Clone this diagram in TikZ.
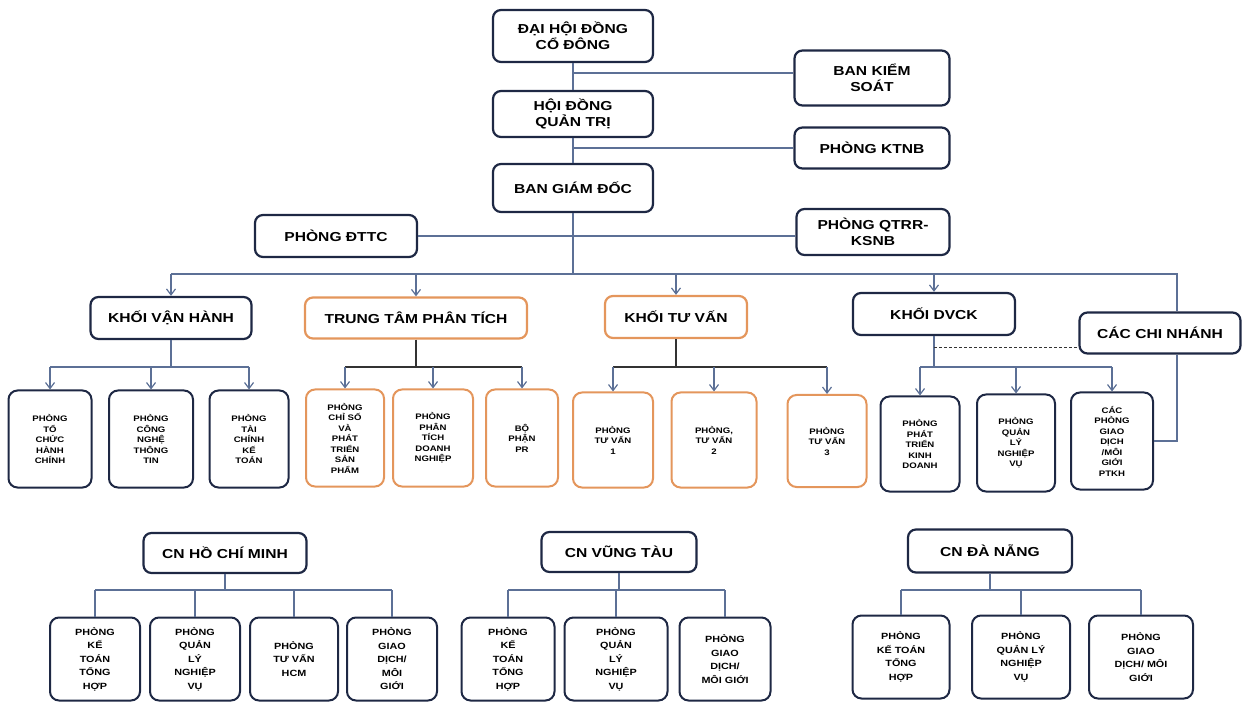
\documentclass[tikz,border=0pt]{standalone}
\usepackage{fontspec}
\setmainfont{Liberation Sans}[FakeStretch=1.2]
\usetikzlibrary{arrows.meta,positioning}
\definecolor{navy}{RGB}{30,40,68}
\definecolor{peach}{RGB}{228,150,92}
\definecolor{linkblue}{RGB}{92,112,150}

\begin{document}
\begin{tikzpicture}[x=1pt,y=-1pt,
  unit/.style={draw=navy,line width=2.2pt,rounded corners=8pt,fill=white,align=center,inner sep=0pt,
    font=\fontsize{13}{16}\selectfont\bfseries},
  warm/.style={draw=peach},
  dept/.style={draw=navy,line width=2pt,rounded corners=9pt,fill=white,align=center,inner sep=0pt,
    minimum height=97pt,font=\fontsize{8}{10.5}\selectfont\bfseries},
  branch/.style={dept,minimum height=83pt,font=\fontsize{9}{13.5}\selectfont\bfseries},
  link/.style={draw=linkblue,line width=1.2pt},
  dlink/.style={draw=black!80,line width=1.2pt},
  arr/.style={link,-{Straight Barb[length=6pt,width=9pt]}}
]
\useasboundingbox (0,0) rectangle (1243,703);

\node (dhdcd) at (573,36)  [unit,minimum width=160pt,minimum height=52pt] {ĐẠI HỘI ĐỒNG\\CỔ ĐÔNG};
\node (bks)   at (872,78)  [unit,minimum width=155pt,minimum height=55pt] {BAN KIỂM\\SOÁT};
\node (hdqt)  at (573,114) [unit,minimum width=160pt,minimum height=46pt] {HỘI ĐỒNG\\QUẢN TRỊ};
\node (ktnb)  at (872,148) [unit,minimum width=155pt,minimum height=41pt] {PHÒNG KTNB};
\node (bgd)   at (573,188) [unit,minimum width=160pt,minimum height=48pt] {BAN GIÁM ĐỐC};
\node (dttc)  at (336,236) [unit,minimum width=162pt,minimum height=42pt] {PHÒNG ĐTTC};
\node (qtrr)  at (873,232) [unit,minimum width=153pt,minimum height=46pt] {PHÒNG QTRR-\\KSNB};

\node (kvh)  at (171,318)  [unit,minimum width=161pt,minimum height=42pt] {KHỐI VẬN HÀNH};
\node (ttpt) at (416,318)  [unit,warm,minimum width=222pt,minimum height=41pt] {TRUNG TÂM PHÂN TÍCH};
\node (ktv)  at (676,317)  [unit,warm,minimum width=142pt,minimum height=42pt] {KHỐI TƯ VẤN};
\node (dvck) at (934,314)  [unit,minimum width=162pt,minimum height=42pt] {KHỐI DVCK};
\node (ccn)  at (1160,333) [unit,minimum width=161pt,minimum height=41pt] {CÁC CHI NHÁNH};

\node (tchc) at (50,439)   [dept,minimum width=83pt] {PHÒNG\\TỔ\\CHỨC\\HÀNH\\CHÍNH};
\node (cntt) at (151,439)  [dept,minimum width=84pt] {PHÒNG\\CÔNG\\NGHỆ\\THÔNG\\TIN};
\node (tckt) at (249,439)  [dept,minimum width=79pt] {PHÒNG\\TÀI\\CHÍNH\\KẾ\\TOÁN};
\node (csp)  at (345,438)  [dept,warm,minimum width=78pt] {PHÒNG\\CHỈ SỐ\\VÀ\\PHÁT\\TRIỂN\\SẢN\\PHẨM};
\node (ptdn) at (433,438)  [dept,warm,minimum width=80pt] {PHÒNG\\PHÂN\\TÍCH\\DOANH\\NGHIỆP};
\node (bppr) at (522,438)  [dept,warm,minimum width=72pt] {BỘ\\PHẬN\\PR};
\node (tv1)  at (613,440)  [dept,warm,minimum width=80pt,minimum height=95pt] {PHÒNG\\TƯ VẤN\\1};
\node (tv2)  at (714,440)  [dept,warm,minimum width=85pt,minimum height=95pt] {PHÒNG,\\TƯ VẤN\\2};
\node (tv3)  at (827,441)  [dept,warm,minimum width=79pt,minimum height=92pt] {PHÒNG\\TƯ VẤN\\3};
\node (ptkd) at (920,444)  [dept,minimum width=79pt,minimum height=95pt] {PHÒNG\\PHÁT\\TRIỂN\\KINH\\DOANH};
\node (qlnv) at (1016,443) [dept,minimum width=78pt] {PHÒNG\\QUẢN\\LÝ\\NGHIỆP\\VỤ};
\node (cpgd) at (1112,441) [dept,minimum width=82pt] {CÁC\\PHÒNG\\GIAO\\DỊCH\\/MÔI\\GIỚI\\PTKH};

\node (hcm) at (225,553) [unit,minimum width=163pt,minimum height=40pt] {CN HỒ CHÍ MINH};
\node (vt)  at (619,552) [unit,minimum width=155pt,minimum height=40pt] {CN VŨNG TÀU};
\node (dn)  at (990,551) [unit,minimum width=164pt,minimum height=43pt] {CN ĐÀ NẴNG};

\node (hcm1) at (95,659)  [branch,minimum width=90pt] {PHÒNG\\KẾ\\TOÁN\\TỔNG\\HỢP};
\node (hcm2) at (195,659) [branch,minimum width=90pt] {PHÒNG\\QUẢN\\LÝ\\NGHIỆP\\VỤ};
\node (hcm3) at (294,659) [branch,minimum width=88pt] {PHÒNG\\TƯ VẤN\\HCM};
\node (hcm4) at (392,659) [branch,minimum width=90pt] {PHÒNG\\GIAO\\DỊCH/\\MÔI\\GIỚI};
\node (vt1)  at (508,659) [branch,minimum width=93pt] {PHÒNG\\KẾ\\TOÁN\\TỔNG\\HỢP};
\node (vt2)  at (616,659) [branch,minimum width=103pt] {PHÒNG\\QUẢN\\LÝ\\NGHIỆP\\VỤ};
\node (vt3)  at (725,659) [branch,minimum width=91pt] {PHÒNG\\GIAO\\DỊCH/\\MÔI GIỚI};
\node (dn1)  at (901,657) [branch,minimum width=97pt] {PHÒNG\\KẾ TOÁN\\TỔNG\\HỢP};
\node (dn2)  at (1021,657) [branch,minimum width=98pt] {PHÒNG\\QUẢN LÝ\\NGHIỆP\\VỤ};
\node (dn3)  at (1141,657) [branch,minimum width=104pt] {PHÒNG\\GIAO\\DỊCH/ MÔI\\GIỚI};

\coordinate (j1) at (573,73);
\coordinate (j2) at (573,148);
\coordinate (bus) at (573,274);
\coordinate (busR) at (1177,274);
\coordinate (row) at (0,367);
\coordinate (dashy) at (0,347);
\coordinate (brow) at (0,590);

\draw[link] (dhdcd) -- (hdqt);
\draw[link] (hdqt) -- (bgd);
\draw[link] (j1) -- (j1 -| bks.west);
\draw[link] (j2) -- (j2 -| ktnb.west);
\draw[link] (bgd) -- (bus);
\draw[link] (dttc.east) -- (dttc.east -| qtrr.west);

\draw[link] (kvh.north |- bus) -- (busR) -- (busR |- ccn.north);
\foreach \n in {kvh,ttpt,ktv,dvck}
  \draw[arr] (\n.north |- bus) -- (\n.north);

\draw[link] (kvh) -- (kvh.south |- row);
\draw[link] (tchc.north |- row) -- (tckt.north |- row);
\foreach \n in {tchc,cntt,tckt}
  \draw[arr] (\n.north |- row) -- (\n.north);

\draw[dlink] (ttpt) -- (ttpt.south |- row);
\draw[dlink] (csp.north |- row) -- (bppr.north |- row);
\foreach \n in {csp,ptdn,bppr}
  \draw[arr] (\n.north |- row) -- (\n.north);

\draw[dlink] (ktv) -- (ktv.south |- row);
\draw[dlink] (tv1.north |- row) -- (tv3.north |- row);
\foreach \n in {tv1,tv2,tv3}
  \draw[arr] (\n.north |- row) -- (\n.north);

\draw[link] (dvck) -- (dvck.south |- row);
\draw[link] (ptkd.north |- row) -- (cpgd.north |- row);
\foreach \n in {ptkd,qlnv,cpgd}
  \draw[arr] (\n.north |- row) -- (\n.north);
\draw[dlink,line width=0.8pt,dash pattern=on 3pt off 2pt] (dvck.south |- dashy) -- (dashy -| ccn.west);
\draw[link] (ccn.south -| busR) |- (cpgd.east);

\draw[link] (hcm) -- (hcm.south |- brow);
\draw[link] (hcm1.north |- brow) -- (hcm4.north |- brow);
\foreach \n in {hcm1,hcm2,hcm3,hcm4}
  \draw[link] (\n.north |- brow) -- (\n.north);

\draw[link] (vt) -- (vt.south |- brow);
\draw[link] (vt1.north |- brow) -- (vt3.north |- brow);
\foreach \n in {vt1,vt2,vt3}
  \draw[link] (\n.north |- brow) -- (\n.north);

\draw[link] (dn) -- (dn.south |- brow);
\draw[link] (dn1.north |- brow) -- (dn3.north |- brow);
\foreach \n in {dn1,dn2,dn3}
  \draw[link] (\n.north |- brow) -- (\n.north);
\end{tikzpicture}
\end{document}
